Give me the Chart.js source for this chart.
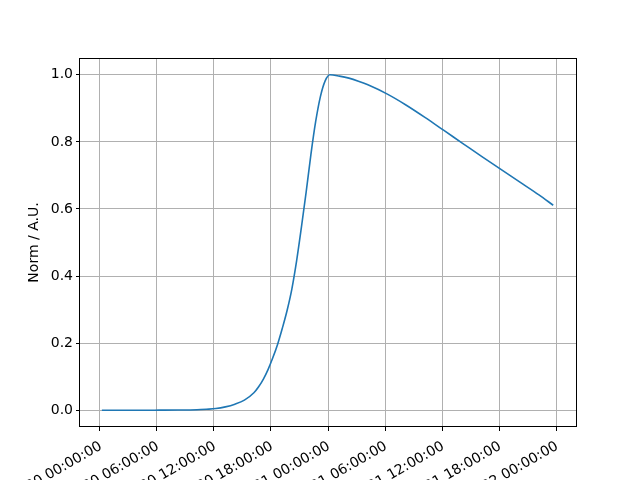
<!DOCTYPE html>
<html>
<head>
<meta charset="utf-8">
<script src="https://cdn.jsdelivr.net/npm/chart.js@4"></script>
<style>
  html, body { margin: 0; padding: 0; background: #fff; }
  #wrap { width: 640px; height: 480px; }
</style>
</head>
<body>
<div id="wrap"><canvas id="normChart" width="640" height="480"></canvas></div>
<script>
// hours since 00:00 of the first day
const hours = [
    0.2, 2.2, 4.2, 6.2, 8.2, 10.2, 11.2, 12.2, 13.2, 14.2, 15.2, 16.2, 16.7,
    17.2, 17.7, 18.2, 18.7, 19.2, 19.7, 20.2, 20.7, 21.2, 21.7, 22.2, 22.7,
    23.2, 23.7, 24.2, 25.2, 26.2, 27.2, 28.2, 30.2, 32.2, 34.2, 36.2, 38.2,
    40.2, 42.2, 44.2, 46.2, 47.7
];
const norm = [
    0, 0, 0, 0.0002, 0.0005, 0.0015, 0.003, 0.005, 0.01, 0.018, 0.03, 0.052, 0.07,
    0.093, 0.122, 0.157, 0.197, 0.245, 0.298, 0.362, 0.446, 0.545, 0.65, 0.762, 0.86,
    0.935, 0.982, 1.0, 0.996, 0.99, 0.981, 0.97, 0.943, 0.91, 0.873, 0.834, 0.795,
    0.756, 0.718, 0.68, 0.642, 0.611
];

const xTickHours = [0, 6, 12, 18, 24, 30, 36, 42, 48];
const xTickLabels = [
    '2020-04-30 00:00:00', '2020-04-30 06:00:00', '2020-04-30 12:00:00',
    '2020-04-30 18:00:00', '2020-05-01 00:00:00', '2020-05-01 06:00:00',
    '2020-05-01 12:00:00', '2020-05-01 18:00:00', '2020-05-02 00:00:00'
];
const yTickValues = [0, 0.2, 0.4, 0.6, 0.8, 1.0];

Chart.defaults.font.family = "'DejaVu Sans', sans-serif";
Chart.defaults.font.size = 14;
Chart.defaults.color = '#000';

// matplotlib style box around the plot area
const frame = {
    id: 'frame',
    afterDraw(chart) {
        const { ctx, chartArea: a } = chart;
        ctx.save();
        ctx.strokeStyle = '#000';
        ctx.lineWidth = 1;
        ctx.strokeRect(Math.round(a.left) - 0.5, Math.round(a.top) + 0.5,
            Math.round(a.right - a.left) + 1, Math.round(a.bottom - a.top) - 1);
        ctx.restore();
    }
};

const gridOpts = {
    color: '#b0b0b0',
    lineWidth: 1,
    drawTicks: true,
    tickLength: 4,
    tickColor: '#000',
    tickWidth: 1
};

new Chart(document.getElementById('normChart'), {
    type: 'line',
    data: {
        datasets: [{
            data: hours.map((h, i) => ({ x: h, y: norm[i] })),
            borderColor: '#1f77b4',
            borderWidth: 1.6,
            pointRadius: 0,
            cubicInterpolationMode: 'monotone',
            fill: false
        }]
    },
    options: {
        responsive: false,
        animation: false,
        layout: { padding: { top: 58, right: 64, left: 0, bottom: 0 } },
        plugins: {
            legend: { display: false },
            tooltip: { enabled: false }
        },
        scales: {
            x: {
                type: 'linear',
                min: -2.1,
                max: 50.1,
                border: { display: false },
                grid: gridOpts,
                afterBuildTicks: (scale) => {
                    scale.ticks = xTickHours.map(v => ({ value: v }));
                },
                afterFit: (scale) => {
                    scale.height = 53;
                    scale.paddingLeft = 0;
                    scale.paddingRight = 0;
                },
                ticks: {
                    autoSkip: false,
                    minRotation: 30,
                    maxRotation: 30,
                    padding: 7,
                    labelOffset: 1,
                    callback: (value, index) => xTickLabels[index]
                }
            },
            y: {
                min: -0.05,
                max: 1.05,
                border: { display: false },
                grid: gridOpts,
                afterBuildTicks: (scale) => {
                    scale.ticks = yTickValues.map(v => ({ value: v }));
                },
                afterFit: (scale) => {
                    scale.width = 80;
                    scale.paddingTop = 0;
                    scale.paddingBottom = 0;
                },
                ticks: {
                    padding: 3,
                    callback: (value) => value.toFixed(1)
                },
                title: {
                    display: true,
                    text: 'Norm / A.U.',
                    padding: { top: 26, bottom: 0 }
                }
            }
        }
    },
    plugins: [frame]
});
</script>
</body>
</html>
